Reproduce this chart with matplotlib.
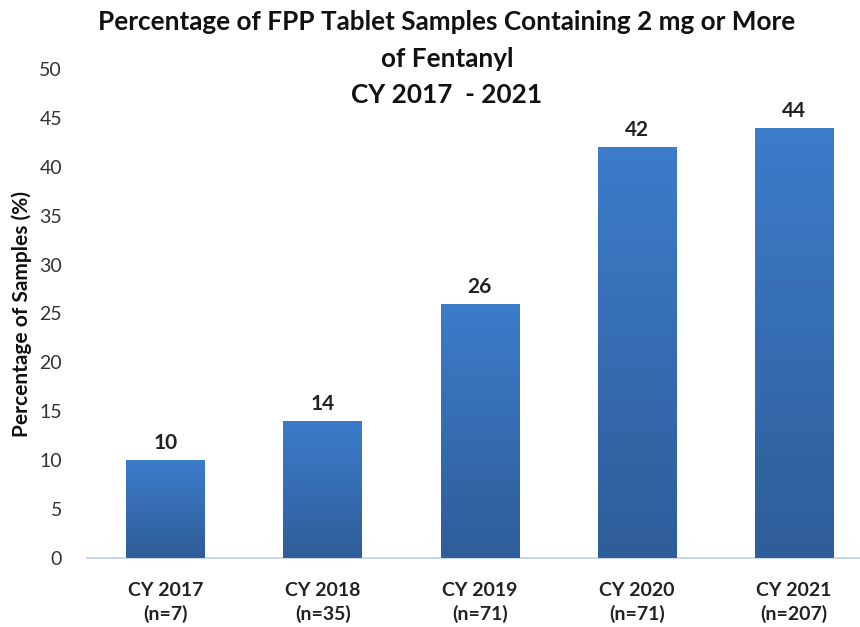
import numpy as np
import matplotlib.pyplot as plt
from matplotlib.colors import LinearSegmentedColormap

plt.rcParams['font.family'] = ['Lato', 'DejaVu Sans']

years = ["CY 2017", "CY 2018", "CY 2019", "CY 2020", "CY 2021"]
counts = ["(n=7)", "(n=35)", "(n=71)", "(n=71)", "(n=207)"]
percent = [10, 14, 26, 42, 44]
yticks = [0, 5, 10, 15, 20, 25, 30, 35, 40, 45, 50]

fig = plt.figure(figsize=(8.6, 6.27), dpi=100)
ax = fig.add_axes([87 / 860, 69 / 627, 1 - 87 / 860, 489 / 627])

x = np.arange(len(years))
bars = ax.bar(x, percent, width=0.5, color="#3a74be", zorder=2)

# vertical gradient: lighter at top, darker at bottom
grad = LinearSegmentedColormap.from_list("bar", ["#2f5d98", "#3c7ccb"])
g = np.linspace(0, 1, 256).reshape(-1, 1)
for b in bars:
    bx, by = b.get_x(), b.get_y()
    w, h = b.get_width(), b.get_height()
    im = ax.imshow(g, cmap=grad, origin="lower", aspect="auto",
                   extent=[bx, bx + w, by, by + h], zorder=3)
    im.set_clip_path(b)

for xi, v in zip(x, percent):
    ax.text(xi, v + 0.7, str(v), ha="center", va="bottom",
            fontsize=15, fontweight="bold", color="#222222")

ax.set_xlim(-0.5, 4.42)
ax.set_ylim(0, 50)
ax.set_yticks(yticks)
ax.set_xticks(x)
ax.set_xticklabels([f"{a}\n{b}" for a, b in zip(years, counts)],
                   fontsize=14, fontweight="bold", color="#222222", linespacing=1.4)
ax.tick_params(axis="y", length=0, labelsize=14, labelcolor="#333333", pad=18)
ax.tick_params(axis="x", length=0, pad=17)

for s in ["top", "right", "left"]:
    ax.spines[s].set_visible(False)
ax.spines["bottom"].set_color("#bdd0ea")
ax.spines["bottom"].set_linewidth(1.2)

fig.text(22 / 860, 1 - 314 / 627, "Percentage of Samples (%)", rotation=90,
         ha="center", va="center", fontsize=15, fontweight="bold", color="#111111")

title_lines = ["Percentage of FPP Tablet Samples Containing 2 mg or More",
               "of Fentanyl", "CY 2017  - 2021"]
for ty, line in zip([22, 59, 95], title_lines):
    fig.text(447 / 860, 1 - ty / 627, line, ha="center", va="center",
             fontsize=18.8, fontweight="bold", color="#111111")

fig.savefig("out.png", dpi=100)
